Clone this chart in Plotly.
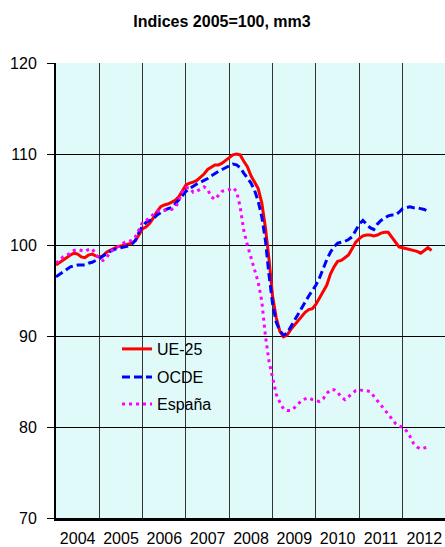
import plotly.graph_objects as go

# ---- data (monthly, Jan 2004 onward) ----
years = [2004, 2005, 2006, 2007, 2008, 2009, 2010, 2011, 2012]
year_labels = [str(y) for y in years]

ue25 = [
    97.8, 98.1, 98.4, 98.7, 98.9, 99.1, 99.0, 98.7, 98.6, 98.9, 99.0, 98.8,
    98.7, 98.8, 99.2, 99.4, 99.6, 99.8, 99.9, 100.0, 100.1, 100.2, 100.5, 101.2,
    101.8, 102.0, 102.4, 103.0, 103.7, 104.2, 104.4, 104.5, 104.7, 104.9, 105.3, 106.0,
    106.6, 106.8, 106.9, 107.1, 107.4, 107.8, 108.3, 108.6, 108.8, 108.8, 109.0, 109.3,
    109.6, 109.9, 110.0, 109.9, 109.2, 108.6, 107.6, 106.9, 106.2, 104.6, 101.9, 98.4,
    94.3, 92.0, 90.5, 89.9, 90.1, 90.7, 91.2, 91.6, 92.1, 92.6, 92.9, 93.0,
    93.5, 94.2, 95.0, 95.6, 96.8, 97.6, 98.2, 98.3, 98.6, 98.9, 99.6, 100.3,
    100.7, 101.0, 101.1, 101.1, 101.0, 101.1, 101.3, 101.4, 101.4, 100.9, 100.3, 99.8,
    99.7, 99.6, 99.5, 99.4, 99.3, 99.1, 99.4, 99.7, 99.4,
]

ocde = [
    96.5, 96.8, 97.1, 97.3, 97.6, 97.7, 97.8, 97.8, 97.8, 98.0, 98.1, 98.3,
    98.5, 98.8, 99.1, 99.3, 99.5, 99.6, 99.7, 99.8, 99.9, 100.1, 100.5, 101.4,
    102.1, 102.5, 102.7, 102.9, 103.3, 103.6, 103.8, 104.0, 104.1, 104.5, 105.0, 105.5,
    105.9, 106.2, 106.5, 106.7, 106.9, 107.1, 107.3, 107.6, 107.9, 108.1, 108.3, 108.5,
    108.7, 108.9, 108.8, 108.5, 107.9, 107.4, 106.8, 106.0, 104.8, 103.1, 100.5, 96.7,
    93.5, 91.5, 90.6, 90.1, 90.3, 91.0, 91.7, 92.3, 93.0, 93.7, 94.4, 95.0,
    95.6, 96.4, 97.5, 98.4, 99.2, 99.8, 100.2, 100.3, 100.4, 100.6, 100.9, 101.6,
    102.3, 102.7, 102.3, 101.9, 101.7, 102.3, 102.7, 103.0, 103.2, 103.3, 103.3, 103.6,
    104.0, 104.1, 104.2, 104.1, 104.1, 104.0, 103.9, 103.7,
]

espana = [
    98.0, 98.4, 98.7, 98.9, 99.1, 99.4, 99.5, 99.4, 99.3, 99.5, 99.6, 99.0,
    98.5, 98.3, 98.6, 99.2, 99.6, 99.8, 100.0, 100.3, 100.4, 100.5, 100.9, 101.8,
    102.5, 102.7, 103.0, 103.3, 103.7, 103.8, 103.8, 103.9, 103.9, 104.1, 104.8, 105.9,
    106.3, 106.3, 105.8, 105.9, 106.2, 106.4, 106.1, 105.3, 105.0, 105.5, 105.9, 106.0,
    106.1, 106.3, 105.9, 104.2, 101.6, 100.0, 98.7, 97.4, 95.9, 93.8, 90.0, 87.2,
    85.5, 83.6, 82.7, 82.0, 81.8, 81.8, 82.1, 82.5, 82.9, 83.1, 83.2, 83.0,
    82.9, 82.8, 83.1, 83.7, 84.1, 84.1, 83.8, 83.3, 83.0, 83.3, 83.7, 84.0,
    84.1, 84.0, 84.0, 83.9, 83.4, 82.9, 82.4, 81.9, 81.4, 80.9, 80.4, 80.1,
    80.0, 79.6, 79.0, 78.2, 77.8, 77.6, 77.7, 77.8,
]

y_ticks = [70, 80, 90, 100, 110, 120]


def months(n):
    return [years[0] + i / 12 for i in range(n)]


W, H = 445, 547
FONT = "Liberation Sans, Arial, sans-serif"

fig = go.Figure()
fig.add_trace(go.Scatter(x=months(len(ue25)), y=ue25, mode="lines", name="UE-25",
                         line=dict(color="#FF0000", width=3), legend="legend"))
fig.add_trace(go.Scatter(x=months(len(ocde)), y=ocde, mode="lines", name="OCDE",
                         line=dict(color="#0000FF", width=3, dash="8px,4px"), legend="legend2"))
fig.add_trace(go.Scatter(x=months(len(espana)), y=espana, mode="lines", name="España",
                         line=dict(color="#FF00FF", width=3, dash="3px,4px"), legend="legend3"))

L, R, T, B = 56, 0, 63, 29
plot_w = W - L - R
plot_h = H - T - B
px_per_year = 43.33


def legend_cfg(ypx):
    return dict(x=(117 - L) / plot_w, y=(H - B - ypx) / plot_h, xref="paper", yref="paper",
                xanchor="left", yanchor="middle", bgcolor="rgba(0,0,0,0)",
                font=dict(family=FONT, size=16, color="#000"))


fig.update_layout(
    width=W, height=H,
    margin=dict(l=L, r=R, t=T, b=B, pad=0, autoexpand=False),
    paper_bgcolor="white",
    plot_bgcolor="#E0FAFA",
    font=dict(family=FONT, size=16, color="#000"),
    title=dict(text="<b>Indices 2005=100, mm3</b>", x=222 / W, xref="container",
               y=1 - 21 / H, yref="container", xanchor="center", yanchor="middle",
               font=dict(family=FONT, size=16, color="#000")),
    legend=legend_cfg(349),
    legend2=legend_cfg(377),
    legend3=legend_cfg(404),
    xaxis=dict(
        range=[years[0], years[0] + plot_w / px_per_year],
        tickmode="array",
        tickvals=[y + 0.5 for y in years],
        ticktext=year_labels,
        tickangle=0, automargin=False,
        ticks="", showgrid=False, zeroline=False,
        showline=True, linecolor="#000", linewidth=3,
        ticklabelstandoff=4,
        tickfont=dict(family=FONT, size=16, color="#000"),
        minor=dict(tickmode="array", tickvals=years[1:], showgrid=True,
                   gridcolor="#333", gridwidth=1, ticks=""),
    ),
    yaxis=dict(
        range=[y_ticks[0], y_ticks[-1]],
        tickmode="array", tickvals=y_ticks, automargin=False,
        ticks="outside", ticklen=7, tickcolor="#000", tickwidth=1,
        showgrid=True, gridcolor="#000", gridwidth=1, zeroline=False,
        showline=True, linecolor="#000", linewidth=2,
        ticklabelstandoff=7,
        tickfont=dict(family=FONT, size=16, color="#000"),
    ),
    showlegend=True,
)

fig.write_html(
    "out.html",
    config={"displayModeBar": False},
    post_script="document.body.style.margin='0';document.body.style.overflow='hidden';",
)
